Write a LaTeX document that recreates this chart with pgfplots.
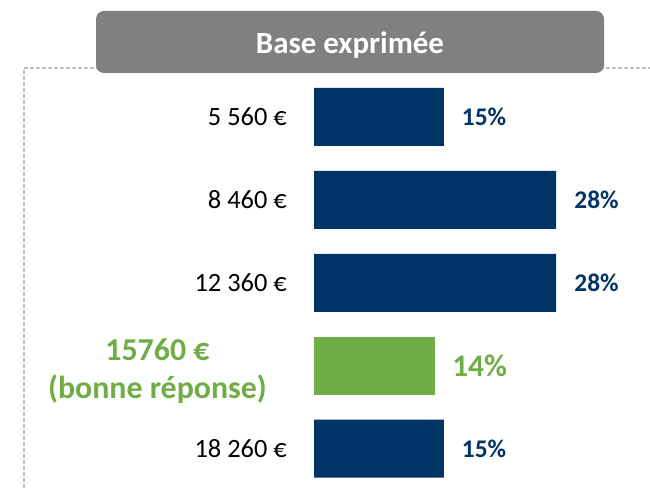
\documentclass[border=0pt]{standalone}
\usepackage{fontspec}
\setmainfont{Carlito}
\usepackage{pgfplots}
\pgfplotsset{compat=1.18}
\definecolor{navy}{RGB}{0,51,102}
\definecolor{lgreen}{RGB}{112,173,71}
\definecolor{tgray}{RGB}{128,128,128}
\definecolor{dgray}{RGB}{191,191,191}
\begin{document}
\begin{tikzpicture}[x=1bp,y=1bp]
\useasboundingbox (0,0) rectangle (650,488);
\draw[dgray, line width=1.3bp, dash pattern=on 4bp off 2bp] (24,0) -- (24,420) -- (650,420);
\fill[tgray, rounded corners=8bp] (96,415) rectangle (604,477);
\node[white, font=\fontsize{31}{36}\selectfont\bfseries] at (350,443) {Base exprimée};
\begin{axis}[
 at={(314bp,412.45bp)}, anchor=north west,
 scale only axis, width=259.5bp, height=414.5bp,
 xmin=0, xmax=30, ymin=-0.5, ymax=4.5, y dir=reverse,
 axis line style={draw=none}, tick style={draw=none},
 xtick=\empty, ytick={0,1,2,3,4},
 yticklabels={5 560 €, 8 460 €, 12 360 €, {\textcolor{lgreen}{\fontsize{32}{38}\selectfont\bfseries\raisebox{0pt}[\dimexpr\height+12bp\relax][\depth]{\begin{tabular}{@{}c@{}}15760 €\\(bonne réponse)\end{tabular}}}\hspace*{20bp}}, 18 260 €},
 yticklabel style={font=\fontsize{26.5}{30}\selectfont, anchor=east, inner sep=0pt, xshift=-27bp, text=black},
 clip=false,
 point meta=x,
 nodes near coords={\pgfmathprintnumber[assume math mode=true]{\pgfplotspointmeta}\%},
]
\addplot[xbar, bar shift=0pt, bar width=58bp, fill=navy, draw=none,
  nodes near coords style={anchor=west, inner sep=0pt, xshift=18bp, text=navy, font=\fontsize{25.5}{30}\selectfont\bfseries}]
  coordinates {(15,0) (28,1) (28,2) (15,4)};
\addplot[xbar, bar shift=0pt, bar width=58bp, fill=lgreen, draw=none,
  nodes near coords style={anchor=west, inner sep=0pt, xshift=17bp, text=lgreen, font=\fontsize{31.5}{36}\selectfont\bfseries}]
  coordinates {(14,3)};
\end{axis}
\end{tikzpicture}
\end{document}
